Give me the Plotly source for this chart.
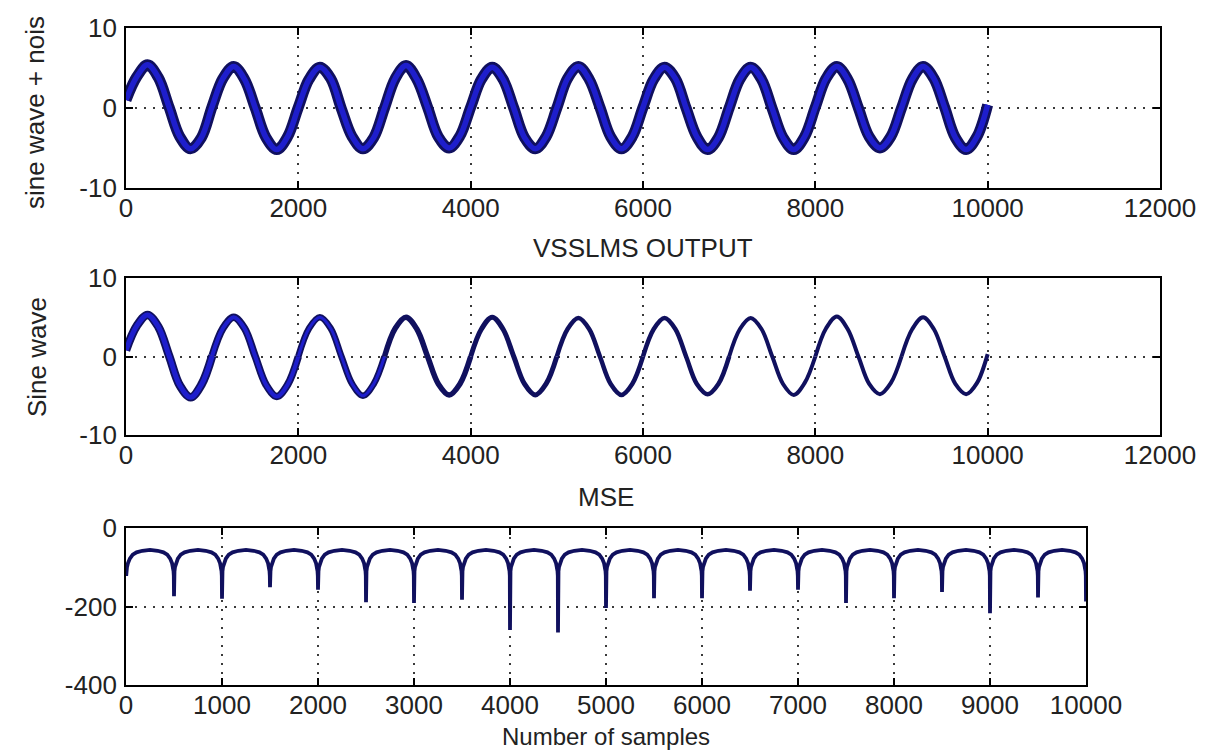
import plotly.graph_objects as go

# ---------------- data ----------------
# sample positions where the waveform values were read (every 125 samples)
SAMPLE_X = [i * 125 for i in range(81)]

NOISY_SINE = [
    1.0, 3.9, 5.4, 3.8, 0.1, -3.6, -5.1, -3.7,
    0.2, 3.7, 5.2, 3.6, 0.0, -3.7, -5.2, -3.6,
    0.1, 3.6, 5.1, 3.7, -0.1, -3.6, -5.1, -3.7,
    0.0, 3.7, 5.3, 3.6, 0.1, -3.6, -5.0, -3.5,
    0.1, 3.6, 5.1, 3.6, 0.0, -3.7, -5.1, -3.6,
    0.0, 3.7, 5.2, 3.6, 0.1, -3.6, -5.1, -3.6,
    0.1, 3.6, 5.1, 3.7, 0.0, -3.6, -5.2, -3.7,
    0.0, 3.6, 5.1, 3.6, -0.1, -3.7, -5.2, -3.6,
    0.1, 3.7, 5.2, 3.6, 0.0, -3.6, -5.0, -3.6,
    0.0, 3.6, 5.2, 3.7, 0.1, -3.7, -5.2, -3.6,
    0.4,
]

VSSLMS_OUT = [
    0.8, 3.9, 5.3, 3.8, 0.1, -3.7, -5.2, -3.6,
    0.1, 3.6, 5.0, 3.6, 0.0, -3.6, -5.1, -3.6,
    0.0, 3.6, 5.0, 3.6, 0.0, -3.5, -5.0, -3.5,
    0.0, 3.6, 5.0, 3.5, 0.0, -3.5, -4.9, -3.5,
    0.0, 3.5, 5.0, 3.5, 0.0, -3.5, -4.9, -3.5,
    0.0, 3.5, 4.9, 3.5, 0.0, -3.5, -4.9, -3.5,
    0.0, 3.5, 4.9, 3.5, 0.0, -3.5, -4.8, -3.5,
    0.0, 3.5, 4.9, 3.5, 0.0, -3.5, -4.9, -3.4,
    0.0, 3.6, 5.1, 3.5, 0.0, -3.5, -4.8, -3.4,
    0.0, 3.5, 5.0, 3.5, 0.0, -3.5, -4.8, -3.4,
    0.3,
]
# band thickness of the VSSLMS output per cycle (noise dying out)
VSS_WIDTH = [8.5, 7.5, 6.5, 5.5, 5, 4.5, 4.5, 4, 4, 4]

# MSE (dB): cusp positions, depth of each dip, and the arch profile
CUSP_X = [i * 500 for i in range(21)]
DIP_DB = [-94, -174, -180, -151, -157, -189, -191, -183, -260, -266, -204,
          -179, -179, -160, -157, -191, -179, -163, -217, -177, -187]
ARCH_OFFSET = [2, 5, 10, 20, 40, 70, 110, 170, 250]
ARCH_DB = [-122, -110, -100, -90, -78, -68, -62, -58, -56]

TOP_XTICKS = [0, 2000, 4000, 6000, 8000, 10000, 12000]
TOP_XTEXT = ["0", "2000", "4000", "6000", "8000", "10000", "12000"]
SINE_YTICKS = [-10, 0, 10]
SINE_YTEXT = ["-10", "0", "10"]
MSE_XTICKS = [0, 1000, 2000, 3000, 4000, 5000, 6000, 7000, 8000, 9000, 10000]
MSE_XTEXT = ["0", "1000", "2000", "3000", "4000", "5000", "6000", "7000",
             "8000", "9000", "10000"]
MSE_YTICKS = [-400, -200, 0]
MSE_YTEXT = ["-400", "-200", "0"]

# ---------------- build MSE trace from the read arrays ----------------
mse_x, mse_y = [], []
for i in range(len(CUSP_X) - 1):
    c0, c1 = CUSP_X[i], CUSP_X[i + 1]
    mse_x.append(c0)
    mse_y.append(DIP_DB[i])
    for off, v in zip(ARCH_OFFSET, ARCH_DB):
        mse_x.append(c0 + off)
        mse_y.append(v)
    for off, v in zip(reversed(ARCH_OFFSET[:-1]), reversed(ARCH_DB[:-1])):
        mse_x.append(c1 - off)
        mse_y.append(v)
mse_x.append(CUSP_X[-1])
mse_y.append(DIP_DB[-1])

# ---------------- figure ----------------
W, H = 1206, 751
FONT = "Liberation Sans"
NAVY = "#10105e"
BLUE = "#1e1ecc"


def xd(a, b):
    return [a / W, b / W]


def yd(top, bottom):
    return [1 - bottom / H, 1 - top / H]


fig = go.Figure()

# top: sine + noise
fig.add_trace(go.Scatter(x=SAMPLE_X, y=NOISY_SINE, mode="lines",
                         line=dict(color=NAVY, width=11, shape="spline", smoothing=1.0),
                         xaxis="x", yaxis="y", hoverinfo="skip"))
fig.add_trace(go.Scatter(x=SAMPLE_X, y=NOISY_SINE, mode="lines",
                         line=dict(color=BLUE, width=5.5, shape="spline", smoothing=1.0),
                         xaxis="x", yaxis="y"))

# middle: VSSLMS output, one trace per cycle with shrinking thickness
for k, wdt in enumerate(VSS_WIDTH):
    sl = slice(8 * k, 8 * k + 9)
    fig.add_trace(go.Scatter(x=SAMPLE_X[sl], y=VSSLMS_OUT[sl], mode="lines",
                             line=dict(color=NAVY, width=wdt, shape="spline", smoothing=1.0),
                             xaxis="x2", yaxis="y2"))
    if k < 3:
        fig.add_trace(go.Scatter(x=SAMPLE_X[sl], y=VSSLMS_OUT[sl], mode="lines",
                                 line=dict(color=BLUE, width=wdt - 3.5, shape="spline", smoothing=1.0),
                                 xaxis="x2", yaxis="y2"))

# bottom: MSE
fig.add_trace(go.Scatter(x=mse_x, y=mse_y, mode="lines",
                         line=dict(color=NAVY, width=3.8),
                         xaxis="x3", yaxis="y3"))

axis_common = dict(
    showline=True, linecolor="black", linewidth=1.8, mirror="ticks",
    ticks="inside", ticklen=7, tickwidth=1.8, tickcolor="black",
    showgrid=True, gridcolor="#3a3a3a", gridwidth=1.8, griddash="2px,7px",
    zeroline=False, automargin=False,
    tickfont=dict(family=FONT, size=26, color="#222222"),
    fixedrange=True,
)

fig.update_layout(
    width=W, height=H,
    margin=dict(l=0, r=0, t=0, b=0),
    paper_bgcolor="white", plot_bgcolor="white",
    showlegend=False,
    xaxis=dict(domain=xd(118, 1152), range=[0, 12000], tickvals=TOP_XTICKS,
               ticktext=TOP_XTEXT, anchor="y", ticklabelstandoff=-4, **axis_common),
    yaxis=dict(domain=yd(20, 180), range=[-10, 10], tickvals=SINE_YTICKS,
               ticktext=SINE_YTEXT, anchor="x", ticklabelstandoff=2, **axis_common),
    xaxis2=dict(domain=xd(118, 1152), range=[0, 12000], tickvals=TOP_XTICKS,
                ticktext=TOP_XTEXT, anchor="y2", ticklabelstandoff=-4, **axis_common),
    yaxis2=dict(domain=yd(270, 427), range=[-10, 10], tickvals=SINE_YTICKS,
                ticktext=SINE_YTEXT, anchor="x2", ticklabelstandoff=2, **axis_common),
    xaxis3=dict(domain=xd(118, 1078), range=[0, 10000], tickvals=MSE_XTICKS,
                ticktext=MSE_XTEXT, anchor="y3", ticklabelstandoff=-4, **axis_common),
    yaxis3=dict(domain=yd(520, 677), range=[-400, 0], tickvals=MSE_YTICKS,
                ticktext=MSE_YTEXT, anchor="x3", ticklabelstandoff=2, **axis_common),
)

txt = dict(family=FONT, size=26, color="#222222")
ann = [
    dict(text="sine wave + nois", x=27 / W, y=1 - 105 / H, textangle=-90, font=txt),
    dict(text="Sine wave", x=29 / W, y=1 - 349 / H, textangle=-90, font=txt),
    dict(text="VSSLMS OUTPUT", x=635 / W, y=1 - 240 / H, font=txt),
    dict(text="MSE", x=598 / W, y=1 - 489 / H, font=txt),
    dict(text="Number of samples", x=598 / W, y=1 - 728 / H,
         font=dict(family=FONT, size=24, color="#222222")),
]
for a in ann:
    fig.add_annotation(xref="paper", yref="paper", showarrow=False,
                       xanchor="center", yanchor="middle", **a)

fig.write_html("out.html")
